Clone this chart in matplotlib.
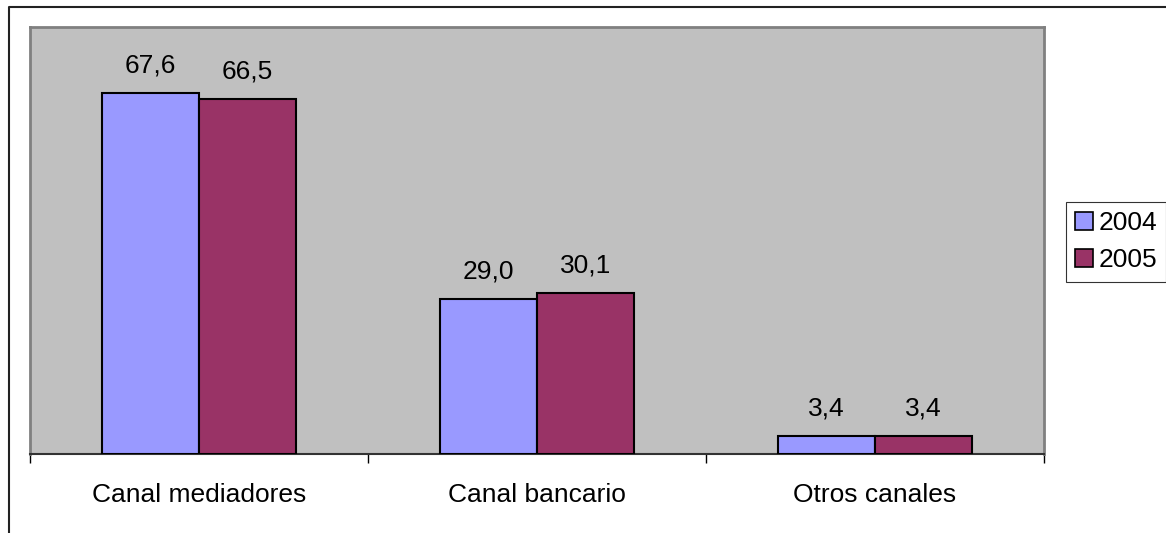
import matplotlib
matplotlib.use("Agg")
import matplotlib.pyplot as plt
from matplotlib.lines import Line2D
from matplotlib.patches import Patch
import numpy as np

categories = ["Canal mediadores", "Canal bancario", "Otros canales"]
series_names = ["2004", "2005"]
values_2004 = [67.6, 29.0, 3.4]
values_2005 = [66.5, 30.1, 3.4]
colors = ["#9999FF", "#993366"]

plt.rcParams["font.family"] = ["Liberation Sans", "DejaVu Sans"]
FS = 19

W, H = 1166, 533
fig = plt.figure(figsize=(W / 100, H / 100), dpi=100)
fig.patch.set_facecolor("white")

# plot area in pixel coordinates
left, top, right, bottom = 30, 27, 1044, 454
ax = fig.add_axes([left / W, 1 - bottom / H, (right - left) / W, (bottom - top) / H])
ax.set_facecolor("#C0C0C0")

x = np.arange(len(categories))
bw = 0.287
series = [values_2004, values_2005]
for i, (vals, col) in enumerate(zip(series, colors)):
    pos = x + (i - 0.5) * bw
    bars = ax.bar(pos, vals, width=bw, color=col, edgecolor="black", linewidth=1.5,
                  label=series_names[i], zorder=3)
    for b, v in zip(bars, vals):
        ax.annotate(f"{v:.1f}".replace(".", ","), (b.get_x() + b.get_width() / 2, v),
                    xytext=(0, 15), textcoords="offset points", ha="center",
                    va="baseline", fontsize=FS, color="black")

ax.set_xlim(-0.5, len(categories) - 0.5)
ax.set_ylim(0, 80)
ax.set_yticks([])

# category boundaries carry the tick marks; names sit at the centers
ax.set_xticks(np.arange(len(categories) + 1) - 0.5)
ax.set_xticklabels([])
ax.tick_params(axis="x", direction="out", length=6.5, width=1, color="black")
for xi, name in zip(x, categories):
    ax.text(xi, -48 / 427, name, transform=ax.get_xaxis_transform(), ha="center",
            va="baseline", fontsize=FS, color="black")

for s in ["left", "top", "right"]:
    ax.spines[s].set_color("#808080")
    ax.spines[s].set_linewidth(2)
ax.spines["bottom"].set_color("#333333")
ax.spines["bottom"].set_linewidth(1.5)

handles = [Patch(facecolor=c, edgecolor="black", linewidth=1.2) for c in colors]
leg = fig.legend(handles, series_names, loc="upper left",
                 bbox_to_anchor=(1066 / W, 1 - 202 / H), fontsize=FS, frameon=True,
                 fancybox=False, edgecolor="black", handlelength=0.68, handleheight=0.68,
                 handletextpad=0.2, borderpad=0.35, labelspacing=0.5, borderaxespad=0)
leg.get_frame().set_linewidth(0.8)

# outer chart frame (left and top edges visible)
fig.add_artist(Line2D([9 / W, 9 / W, 1.0], [0.0, 1 - 7 / H, 1 - 7 / H],
                      transform=fig.transFigure, color="#222222", linewidth=1.5))

fig.savefig("out.png", dpi=100)
